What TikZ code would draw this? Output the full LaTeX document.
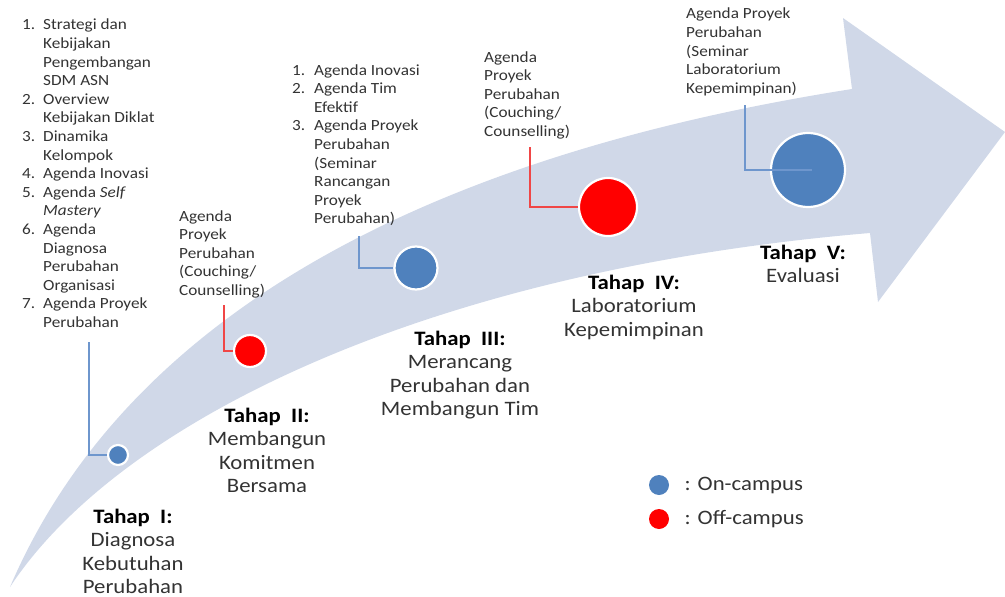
\documentclass[tikz,border=0pt]{standalone}
\usepackage{fontspec}
\setmainfont{Carlito}[FakeStretch=1.11]
\usepackage{xcolor}
\usetikzlibrary{positioning,calc}

\definecolor{band}{RGB}{208,216,232}
\definecolor{oncampus}{RGB}{79,129,189}
\definecolor{offcampus}{RGB}{255,0,0}
\definecolor{onlink}{RGB}{110,150,205}
\definecolor{offlink}{RGB}{240,70,70}
\definecolor{txt}{RGB}{51,51,51}

\newcommand{\smallfont}{\fontsize{15.5}{18.6}\selectfont}
\newcommand{\bigfont}{\fontsize{20.5}{23.6}\selectfont}
\newcommand{\tahap}[2]{\begin{tabular}[t]{@{}c@{}}\textcolor{black}{\textbf{Tahap\ \ #1:}}\\#2\end{tabular}}

\tikzset{
  stagedot/.style={circle, draw=white, line width=2.2pt, inner sep=0pt},
  legenddot/.style={circle, inner sep=0pt, minimum size=20pt},
  agenda/.style={anchor=base west, inner sep=0pt, text=txt, font=\smallfont},
  stage/.style={anchor=base, inner sep=0pt, text=txt, font=\bigfont},
  link/.style={line width=1.3pt},
}

\begin{document}
\begin{tikzpicture}[x=1pt,y=-1pt]
  \useasboundingbox (0,0) rectangle (1005,597);

  \fill[band] (10,587) .. controls (120,330) and (400,160) .. (852,89)
    -- (843,18) -- (1005,132) -- (878,302) -- (870,233)
    .. controls (430,270) and (120,420) .. (10,587) -- cycle;

  \node[agenda] (list1) at (22,30) {\begin{tabular}[t]{@{}p{21pt}@{}l@{}}
    1. & Strategi dan\\
       & Kebijakan\\
       & Pengembangan\\
       & SDM ASN\\
    2. & Overview\\
       & Kebijakan Diklat\\
    3. & Dinamika\\
       & Kelompok\\
    4. & Agenda Inovasi\\
    5. & Agenda \textit{Self}\\
       & \textit{Mastery}\\
    6. & Agenda\\
       & Diagnosa\\
       & Perubahan\\
       & Organisasi\\
    7. & Agenda Proyek\\
       & Perubahan
  \end{tabular}};
  \node[agenda] (list2) at (179,221) {\begin{tabular}[t]{@{}l@{}}
    Agenda\\ Proyek\\ Perubahan\\ (Couching/\\ Counselling)
  \end{tabular}};
  \node[agenda] (list3) at (292,75) {\begin{tabular}[t]{@{}p{22pt}@{}l@{}}
    1. & Agenda Inovasi\\
    2. & Agenda Tim\\
       & Efektif\\
    3. & Agenda Proyek\\
       & Perubahan\\
       & (Seminar\\
       & Rancangan\\
       & Proyek\\
       & Perubahan)
  \end{tabular}};
  \node[agenda] (list4) at (484,62) {\begin{tabular}[t]{@{}l@{}}
    Agenda\\ Proyek\\ Perubahan\\ (Couching/\\ Counselling)
  \end{tabular}};
  \node[agenda] (list5) at (686,19) {\begin{tabular}[t]{@{}l@{}}
    Agenda Proyek\\ Perubahan\\ (Seminar\\ Laboratorium\\ Kepemimpinan)
  \end{tabular}};

  \coordinate (c1) at (89,342);
  \coordinate (c2) at (224,305);
  \coordinate (c3) at (359,236);
  \coordinate (c4) at (530,147);
  \coordinate (c5) at (745,105);

  \node[stagedot, fill=oncampus, minimum size=20pt] (d1) at (118,455) {};
  \node[stagedot, fill=offcampus, minimum size=32pt] (d2) at (250,351) {};
  \node[stagedot, fill=oncampus, minimum size=43pt] (d3) at (416,268) {};
  \node[stagedot, fill=offcampus, minimum size=58pt] (d4) at (608,207) {};
  \node[stagedot, fill=oncampus, minimum size=74pt] (d5) at (808,170) {};

  \draw[link, onlink] (c1) |- (d1);
  \draw[link, offlink] (c2) |- (d2);
  \draw[link, onlink] (c3) |- (d3);
  \draw[link, offlink] (c4) |- (d4);
  \draw[link, onlink] (c5) |- ($(d5.center)+(4,0)$);

  \node[stage] (t1) at (133,523) {\tahap{I}{Diagnosa\\Kebutuhan\\Perubahan}};
  \node[stage] (t2) at (267,422) {\tahap{II}{Membangun\\Komitmen\\Bersama}};
  \node[stage] (t3) at (460,345) {\tahap{III}{Merancang\\Perubahan dan\\Membangun Tim}};
  \node[stage] (t4) at (634,289) {\tahap{IV}{Laboratorium\\Kepemimpinan}};
  \node[stage] (t5) at (803,259) {\tahap{V}{Evaluasi}};

  \node[legenddot, fill=oncampus] (lgon) at (659,485) {};
  \node[legenddot, fill=offcampus] (lgoff) at (659,519) {};
  \node[right=12pt of lgon, text=txt, font=\bigfont] (lgontext) {: On-campus};
  \node[right=12pt of lgoff, text=txt, font=\bigfont] (lgofftext) {: Off-campus};
\end{tikzpicture}
\end{document}
